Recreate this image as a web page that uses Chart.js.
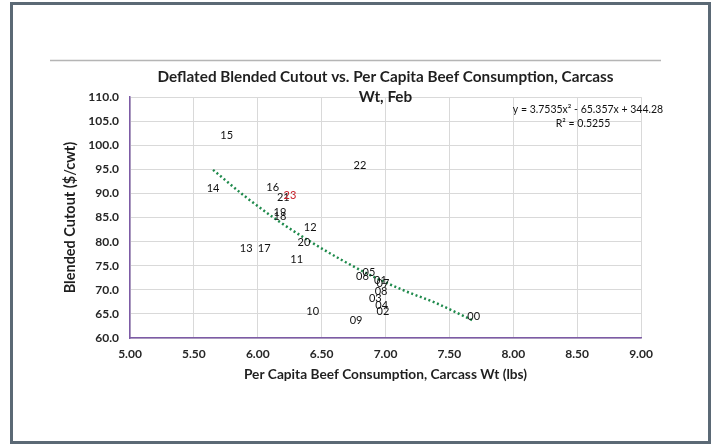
<!DOCTYPE html>
<html>
<head>
<meta charset="utf-8">
<script src="https://cdn.jsdelivr.net/npm/chart.js@4.4.1/dist/chart.umd.min.js"></script>
<style>
  html, body { margin: 0; padding: 0; background: #ffffff; }
  #wrap { width: 714px; height: 445px; position: relative; }
</style>
</head>
<body>
<div id="wrap"><canvas id="c" width="714" height="445"></canvas></div>
<script>
// ---- data ----
const pointLabels = ['00','01','02','03','04','05','06','07','08','09','10','11','12','13','14','15','16','17','18','19','20','21','22','23'];
const consumption = [7.69, 6.96, 6.98, 6.92, 6.97, 6.87, 6.82, 6.98, 6.965, 6.77, 6.43, 6.305, 6.41, 5.91, 5.65, 5.757, 6.117, 6.05, 6.174, 6.174, 6.362, 6.20, 6.80, 6.252];
const cutout      = [64.4, 72.0, 65.6, 68.15, 66.85, 73.6, 72.7, 71.3, 69.75, 63.7, 65.6, 76.4, 82.9, 78.5, 91.0, 102.1, 91.2, 78.6, 85.2, 86.0, 79.85, 89.1, 95.8, 89.5];
const highlightLabel = '23';

// dotted trend line
const trendX = [5.65, 5.9, 6.15, 6.4, 6.65, 6.9, 7.15, 7.4, 7.68];
const trendY = [94.9, 89.4, 84.5, 80.2, 76.3, 72.8, 69.8, 67.2, 63.7];

const xTicks = [5.0, 5.5, 6.0, 6.5, 7.0, 7.5, 8.0, 8.5, 9.0];
const yTicks = [60, 65, 70, 75, 80, 85, 90, 95, 100, 105, 110];

const titleLines = ['Deflated Blended Cutout vs. Per Capita Beef Consumption, Carcass', 'Wt, Feb'];
const xTitle = 'Per Capita Beef Consumption, Carcass Wt (lbs)';
const yTitle = 'Blended Cutout ($/cwt)';
const equationLines = ['y = 3.7535x\u00B2 - 65.357x + 344.28', 'R\u00B2 = 0.5255'];

// ---- plugins ----
const frame = {
  id: 'frame',
  beforeDraw(chart) {
    const ctx = chart.ctx;
    ctx.save();
    ctx.fillStyle = '#ffffff';
    ctx.fillRect(0, 0, chart.width, chart.height);
    ctx.strokeStyle = '#5b6975';
    ctx.lineWidth = 3;
    ctx.strokeRect(11.5, 3.5, 698, 439);
    ctx.strokeStyle = '#b5b5b5';
    ctx.lineWidth = 1.5;
    ctx.beginPath();
    ctx.moveTo(50, 60.5);
    ctx.lineTo(661, 60.5);
    ctx.stroke();
    ctx.restore();
  }
};

const pointText = {
  id: 'pointText',
  afterDatasetsDraw(chart) {
    const ctx = chart.ctx;
    const meta = chart.getDatasetMeta(0);
    ctx.save();
    ctx.font = '11px Lato, "Open Sans", sans-serif';
    ctx.textAlign = 'center';
    ctx.textBaseline = 'middle';
    meta.data.forEach((el, i) => {
      const lab = pointLabels[i];
      ctx.fillStyle = lab === highlightLabel ? '#c8202a' : '#111111';
      ctx.fillText(lab, el.x, el.y);
    });
    // equation text
    ctx.fillStyle = '#111111';
    ctx.font = '10.5px Lato, "Open Sans", sans-serif';
    ctx.fillText(equationLines[0], 588, 110);
    ctx.fillText(equationLines[1], 583, 124);
    ctx.restore();
  }
};

const scatterData = consumption.map((v, i) => ({ x: v, y: cutout[i] }));
const trendData = trendX.map((v, i) => ({ x: v, y: trendY[i] }));

new Chart(document.getElementById('c'), {
  type: 'scatter',
  data: {
    datasets: [
      {
        label: 'Years',
        data: scatterData,
        pointRadius: 0,
        pointHoverRadius: 0,
        showLine: false
      },
      {
        type: 'line',
        label: 'Trend',
        data: trendData,
        borderColor: '#1f8a4c',
        borderWidth: 2.5,
        borderDash: [2, 2.6],
        borderCapStyle: 'butt',
        pointRadius: 0,
        fill: false,
        cubicInterpolationMode: 'monotone'
      }
    ]
  },
  options: {
    responsive: false,
    animation: false,
    devicePixelRatio: 1,
    layout: { padding: { left: 55, right: 73, top: 67, bottom: 57 } },
    plugins: {
      legend: { display: false },
      tooltip: { enabled: false },
      title: {
        display: true,
        text: titleLines,
        fullSize: false,
        color: '#1f1f1f',
        font: { family: 'Lato, "Open Sans", sans-serif', size: 15.3, weight: 'bold', lineHeight: 1.31 },
        padding: { top: 0, bottom: -10 }
      }
    },
    scales: {
      x: {
        type: 'linear',
        min: 5, max: 9,
        afterBuildTicks(scale) { scale.ticks = xTicks.map(v => ({ value: v })); },
        afterFit(scale) { scale.height = 50; },
        ticks: {
          padding: 9,
          color: '#262626',
          font: { family: 'Lato, "Open Sans", sans-serif', size: 12, weight: 'bold' },
          callback: v => Number(v).toFixed(2)
        },
        grid: { color: '#d9d9d9', lineWidth: 1, drawTicks: false },
        border: { color: '#7d5ba6', width: 1.5 },
        title: {
          display: true,
          text: xTitle,
          color: '#1f1f1f',
          font: { family: 'Lato, "Open Sans", sans-serif', size: 13.7, weight: 'bold' },
          padding: { top: 0, bottom: 5 }
        }
      },
      y: {
        type: 'linear',
        min: 60, max: 110,
        afterBuildTicks(scale) { scale.ticks = yTicks.map(v => ({ value: v })); },
        afterFit(scale) { scale.width = 75; },
        ticks: {
          padding: 11,
          color: '#262626',
          font: { family: 'Lato, "Open Sans", sans-serif', size: 12, weight: 'bold' },
          callback: v => Number(v).toFixed(1)
        },
        grid: { color: '#d9d9d9', lineWidth: 1, drawTicks: false },
        border: { color: '#7d5ba6', width: 1.5 },
        title: {
          display: true,
          text: yTitle,
          color: '#1f1f1f',
          font: { family: 'Lato, "Open Sans", sans-serif', size: 14.5, weight: 'bold' },
          padding: { top: 7, bottom: 0 }
        }
      }
    }
  },
  plugins: [frame, pointText]
});
</script>
</body>
</html>
